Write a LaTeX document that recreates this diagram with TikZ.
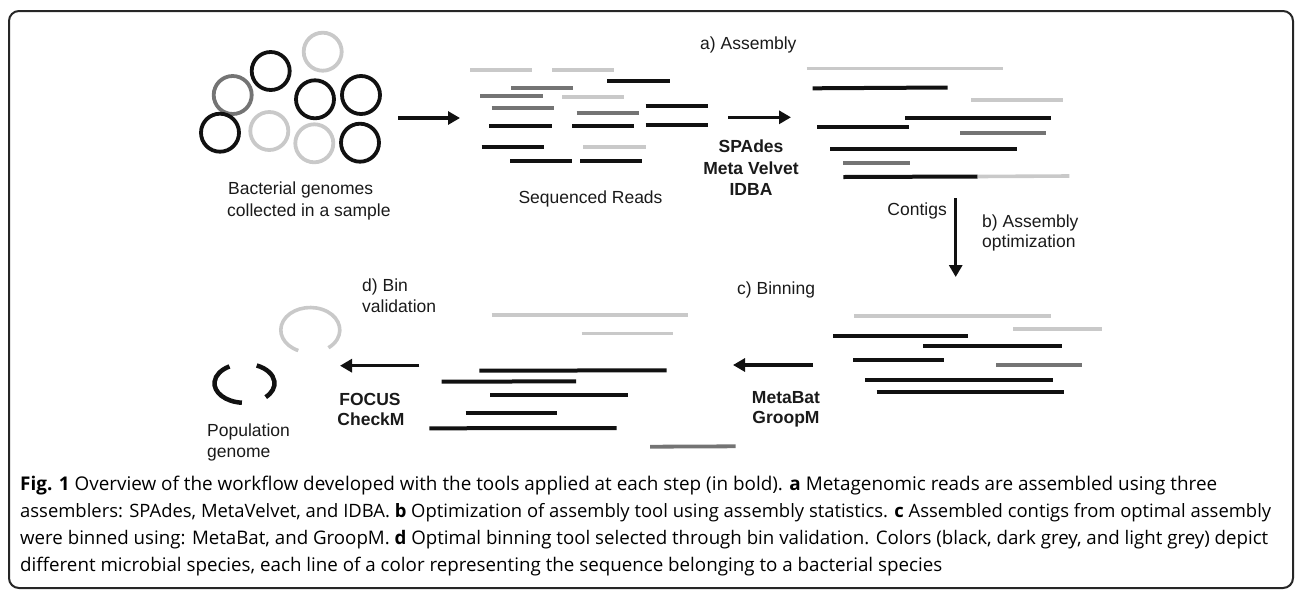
\documentclass[tikz,border=0pt]{standalone}
\usepackage{fontspec}
\usepackage{graphicx}
\setmainfont{Liberation Sans}
\newfontfamily\capfont{Open Sans}
\usetikzlibrary{arrows.meta}
\definecolor{ink}{HTML}{111111}
\definecolor{dgrey}{HTML}{747474}
\definecolor{lgrey}{HTML}{C9C9C9}
\definecolor{txt}{HTML}{1A1A1A}
\begin{document}
\begin{tikzpicture}[x=1pt,y=-1pt,
  bk/.style={line width=4pt,draw=ink},
  dk/.style={line width=3.8pt,draw=dgrey},
  lt/.style={line width=3.6pt,draw=lgrey},
  ring/.style={line width=3.8pt},
  flow/.style={line width=3.5pt,draw=ink,-{Triangle[length=12pt,width=13pt]}},
  lbl/.style={inner sep=0pt,text=txt,text height=12.5pt,text depth=3.5pt,font=\fontsize{17.5}{20}\selectfont},
  tool/.style={lbl,font=\fontsize{17.5}{20}\selectfont\bfseries},
  captext/.style={anchor=west,inner sep=0pt,text height=13pt,text depth=4pt,font=\capfont\fontsize{19}{22}\selectfont},
]
\useasboundingbox (0,0) rectangle (1295,590);
\draw[line width=2pt,rounded corners=10pt,draw=black!85] (9,11) rectangle (1293,588);

% genomes
\draw[ring,lgrey] (322.7,51.7) circle[radius=19];
\draw[ring,ink]   (270.7,71)   circle[radius=19];
\draw[ring,dgrey] (232.7,95)   circle[radius=19];
\draw[ring,ink]   (315,99.3)   circle[radius=19];
\draw[ring,ink]   (361,95)     circle[radius=19];
\draw[ring,ink]   (220,132.7)  circle[radius=19];
\draw[ring,lgrey] (269.3,131)  circle[radius=19];
\draw[ring,lgrey] (314.3,143.3) circle[radius=19];
\draw[ring,ink]   (360,142.7)  circle[radius=19];
\node[lbl,anchor=west] (gen1) at (228,190) {Bacterial genomes};
\node[lbl,anchor=west] (gen2) at (227,212) {collected in a sample};

% arrow 1
\coordinate (a1s) at (398,118);
\coordinate (a1e) at (460,118);
\draw[flow] (a1s) -- (a1e);

% reads
\draw[lt] (470,70) -- (531.7,70);
\draw[lt] (552.3,70) -- (614.3,70);
\draw[bk] (607.3,81.3) -- (670,81.3);
\draw[dk] (511,88.3) -- (573.3,88.3);
\draw[dk] (480,96) -- (542.7,96);
\draw[lt] (562.3,96.7) -- (624.3,96.7);
\draw[dk] (491.7,108.3) -- (554.3,108.3);
\draw[bk] (645.7,106) -- (708.3,106);
\draw[dk] (576.7,113.3) -- (638.7,113.3);
\draw[bk] (489.3,125.7) -- (551.7,125.7);
\draw[bk] (572.3,126.3) -- (634.3,126.3);
\draw[bk] (645.7,125) -- (708.3,125);
\draw[bk] (481.7,146.7) -- (544.3,146.7);
\draw[lt] (583.3,146.7) -- (645.7,146.7);
\draw[bk] (510,161) -- (572.3,161);
\draw[bk] (580,161) -- (642.3,161);
\node[lbl] (reads) at (590.5,199) {Sequenced Reads};

% assembly
\node[lbl,anchor=west] (asm) at (700,45) {a) Assembly};
\coordinate (a2s) at (728.3,117.3);
\coordinate (a2e) at (791,117.3);
\draw[flow] (a2s) -- (a2e);
\node[tool] (spades) at (751,148) {SPAdes};
\node[tool] (velvet) at (751,170) {Meta Velvet};
\node[tool] (idba) at (751,191) {IDBA};

% contigs
\draw[lt] (806.7,68.3) -- (1002.7,68.3);
\draw[bk] (812.7,88.3) -- (947.7,87.5);
\draw[lt] (971,100) -- (1062.7,100);
\draw[bk] (905,117.7) -- (1050.7,117.7);
\draw[bk] (817.3,127.3) -- (909,127.3);
\draw[dk] (960,133.3) -- (1045.7,133.3);
\draw[bk] (830,148.7) -- (1016.7,148.7);
\draw[dk] (843.3,163.3) -- (910,163.3);
\draw[bk] (843.3,177) -- (977.7,176.5);
\draw[lt] (977.7,176.5) -- (1069.3,176);

% contigs arrow
\coordinate (a3s) at (955.7,198);
\coordinate (a3e) at (955.7,277);
\draw[flow] (a3s) -- (a3e);
\node[lbl,anchor=east] (contigs) at (947,211) {Contigs};
\node[lbl,anchor=west] (opt1) at (982,223) {b) Assembly};
\node[lbl,anchor=west] (opt2) at (982,243) {optimization};

% binning right
\node[lbl,anchor=west] (binning) at (737,290) {c) Binning};
\draw[lt] (854,316) -- (1050.7,316);
\draw[lt] (1013.3,329) -- (1102,329);
\draw[bk] (833.3,335.7) -- (968.3,335.7);
\draw[bk] (923.3,345.7) -- (1061.7,345.7);
\draw[bk] (853.3,360) -- (944.3,360);
\draw[dk] (996,365) -- (1081.7,365);
\draw[bk] (865,380) -- (1052.7,380);
\draw[bk] (876.7,392.3) -- (1064.3,392.3);

\coordinate (a4s) at (813,365);
\coordinate (a4e) at (733,365);
\draw[flow] (a4s) -- (a4e);
\node[tool] (metabat) at (786,399) {MetaBat};
\node[tool] (groopm) at (786,419) {GroopM};

% binned middle
\draw[lt] (491.7,315) -- (688.3,315);
\draw[lt] (581.7,333.3) -- (673.3,333.3);
\draw[bk] (479.3,370.7) -- (666.7,370.3);
\draw[bk] (441.7,381.7) -- (576,381.3);
\draw[bk] (490,395) -- (628.3,395);
\draw[bk] (465.7,413.3) -- (556.7,413.3);
\draw[bk] (429.3,428.3) -- (616.7,428);
\draw[dk] (650,446.7) -- (735.7,446.3);

\coordinate (a5s) at (419.3,365.7);
\coordinate (a5e) at (340,365.7);
\draw[flow] (a5s) -- (a5e);
\node[tool] (focus) at (370,401) {FOCUS};
\node[tool] (checkm) at (371,421) {CheckM};
\node[lbl,anchor=west] (val1) at (362,287) {d) Bin};
\node[lbl,anchor=west] (val2) at (362,308) {validation};

% population genome
\draw[ring,lgrey,line width=3.6pt] (310.3,330) ++(114:29.5 and 22.5) arc[start angle=114,end angle=412,x radius=29.5,y radius=22.5];
\draw[ring,ink,line width=4.5pt] (244.5,383.3) ++(95:30 and 19.5) arc[start angle=95,end angle=240,x radius=30,y radius=19.5];
\draw[ring,ink,line width=4.5pt] (244.5,383.3) ++(-66:30 and 19.5) arc[start angle=-66,end angle=45,x radius=30,y radius=19.5];
\node[lbl,anchor=west] (pop1) at (207,432) {Population};
\node[lbl,anchor=west] (pop2) at (207,453) {genome};

% caption
\node[captext] (c1) at (20,486) {\resizebox{1197pt}{!}{\textbf{Fig. 1} Overview of the workflow developed with the tools applied at each step (in bold). \textbf{a} Metagenomic reads are assembled using three}};
\node[captext] (c2) at (20,513) {\resizebox{1251pt}{!}{assemblers: SPAdes, MetaVelvet, and IDBA. \textbf{b} Optimization of assembly tool using assembly statistics. \textbf{c} Assembled contigs from optimal assembly}};
\node[captext] (c3) at (20,540) {\resizebox{1248pt}{!}{were binned using: MetaBat, and GroopM. \textbf{d} Optimal binning tool selected through bin validation. Colors (black, dark grey, and light grey) depict}};
\node[captext] (c4) at (20,567) {\resizebox{922pt}{!}{different microbial species, each line of a color representing the sequence belonging to a bacterial species}};
\end{tikzpicture}
\end{document}
